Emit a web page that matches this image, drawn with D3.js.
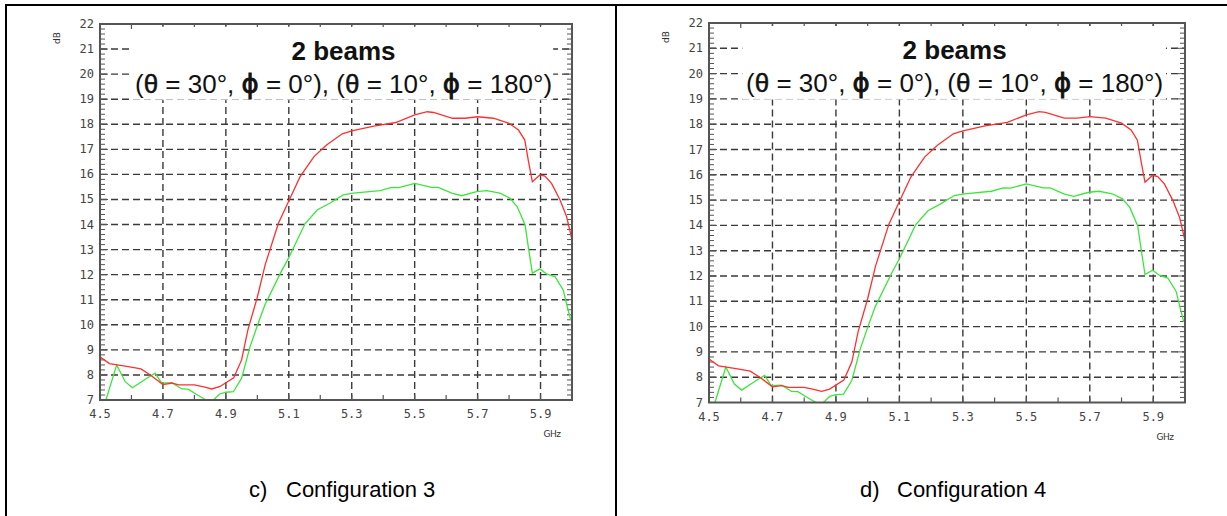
<!DOCTYPE html>
<html>
<head>
<meta charset="utf-8">
<script src="https://cdn.jsdelivr.net/npm/d3@7"></script>
<style>
  body { margin: 0; background: #fff; }
  svg { display: block; }
</style>
</head>
<body>
<div id="viz"></div>
<script>
// ------------------------------------------------ Data -------------------------------------------------
// red curve (GHz, dB)
var red_freq = [4.50, 4.53, 4.59, 4.63, 4.66, 4.70, 4.73, 4.75, 4.80, 4.83, 4.855, 4.88, 4.925, 4.95, 4.97, 5.00, 5.025, 5.067, 5.104, 5.136, 5.18, 5.22, 5.27, 5.30, 5.37, 5.44, 5.50, 5.54, 5.56, 5.62, 5.66, 5.70, 5.75, 5.80, 5.83, 5.85, 5.862, 5.874, 5.898, 5.914, 5.935, 5.962, 5.983, 6.00]
var red_db   = [8.72, 8.45, 8.33, 8.24, 8.00, 7.62, 7.67, 7.60, 7.60, 7.52, 7.44, 7.53, 7.89, 8.60, 9.80, 11.10, 12.40, 14.05, 15.05, 15.91, 16.71, 17.17, 17.62, 17.74, 17.93, 18.07, 18.37, 18.50, 18.47, 18.24, 18.24, 18.30, 18.24, 18.04, 17.77, 17.37, 16.50, 15.71, 15.98, 15.93, 15.64, 14.98, 14.31, 13.40]

// green curve (GHz, dB)
var green_freq = [4.50, 4.52, 4.553, 4.58, 4.603, 4.632, 4.654, 4.675, 4.696, 4.728, 4.76, 4.78, 4.81, 4.84, 4.855, 4.88, 4.90, 4.924, 4.95, 4.977, 5.00, 5.024, 5.075, 5.10, 5.151, 5.19, 5.23, 5.273, 5.305, 5.39, 5.427, 5.45, 5.50, 5.554, 5.575, 5.618, 5.649, 5.697, 5.729, 5.771, 5.803, 5.826, 5.851, 5.861, 5.874, 5.898, 5.92, 5.946, 5.972, 5.985, 5.996]
var green_db   = [6.50, 7.05, 8.40, 7.73, 7.49, 7.73, 7.91, 8.07, 7.67, 7.69, 7.44, 7.43, 7.20, 6.98, 6.93, 7.24, 7.31, 7.33, 7.87, 9.13, 9.97, 10.79, 12.10, 12.68, 14.02, 14.58, 14.85, 15.18, 15.25, 15.35, 15.48, 15.47, 15.64, 15.48, 15.48, 15.25, 15.15, 15.31, 15.35, 15.25, 15.05, 14.71, 13.98, 13.12, 12.06, 12.23, 12.02, 11.92, 11.39, 10.72, 10.19]

var y_ticks = [7, 8, 9, 10, 11, 12, 13, 14, 15, 16, 17, 18, 19, 20, 21, 22]
var x_labels = [4.5, 4.7, 4.9, 5.1, 5.3, 5.5, 5.7, 5.9]
var x_grid = [4.7, 4.9, 5.1, 5.3, 5.5, 5.7, 5.9]
var title_line1 = "2 beams"
var captions = ["c)", "d)"]
var caption_names = ["Configuration 3", "Configuration 4"]

// ------------------------------------------------ Layout -------------------------------------------------
var width = 1227
var height = 516
var panels = [
    {left: 100, right: 572, top: 24, bottom: 400, cell: 6},
    {left: 709, right: 1185, top: 23, bottom: 402.5, cell: 617}
]

var svg = d3.select("#viz")
    .append("svg")
    .attr("width", width)
    .attr("height", height)

var red_pts = red_freq.map(function(f, i) { return [f, red_db[i]] })
var green_pts = green_freq.map(function(f, i) { return [f, green_db[i]] })

// ------------------------------------------------ Table lines -------------------------------------------------
svg.append("line").attr("x1", 5).attr("x2", width).attr("y1", 5).attr("y2", 5)
    .style("stroke", "#000").style("stroke-width", 2)
svg.append("line").attr("x1", 6).attr("x2", 6).attr("y1", 4).attr("y2", height)
    .style("stroke", "#000").style("stroke-width", 2)
svg.append("line").attr("x1", 616).attr("x2", 616).attr("y1", 4).attr("y2", height)
    .style("stroke", "#000").style("stroke-width", 2)

panels.forEach(function(p, k) {
    var g = svg.append("g")

    var x = d3.scaleLinear().domain([4.5, 6.0]).range([p.left, p.right])
    var y = d3.scaleLinear().domain([7, 22]).range([p.bottom, p.top])

    var clipId = "clip" + k
    g.append("clipPath").attr("id", clipId)
        .append("rect")
        .attr("x", p.left).attr("y", p.top)
        .attr("width", p.right - p.left).attr("height", p.bottom - p.top)

    // ------------------- grid -------------------
    g.selectAll(".hgrid")
        .data(y_ticks.filter(function(v) { return v > 7 && v < 22 }))
        .join("line")
        .attr("x1", p.left).attr("x2", p.right)
        .attr("y1", function(d) { return y(d) }).attr("y2", function(d) { return y(d) })
        .style("stroke", "#3a3a3a").style("stroke-width", 1.4)
        .style("stroke-dasharray", "7,4")

    g.selectAll(".vgrid")
        .data(x_grid)
        .join("line")
        .attr("x1", function(d) { return x(d) }).attr("x2", function(d) { return x(d) })
        .attr("y1", p.bottom).attr("y2", p.top)
        .style("stroke", "#3a3a3a").style("stroke-width", 1.4)
        .style("stroke-dasharray", "7,4")

    // ------------------- minor ticks -------------------
    var yminor = d3.range(70, 221, 2).map(function(v) { return v / 10 })
    var xminor = d3.range(45, 61, 1).map(function(v) { return v / 10 })

    yminor.forEach(function(v) {
        var len = (Math.abs(v - Math.round(v)) < 0.01) ? 8 : 5
        g.append("line").attr("x1", p.left).attr("x2", p.left + len)
            .attr("y1", y(v)).attr("y2", y(v))
            .style("stroke", "#555").style("stroke-width", 1)
        g.append("line").attr("x1", p.right).attr("x2", p.right - len)
            .attr("y1", y(v)).attr("y2", y(v))
            .style("stroke", "#555").style("stroke-width", 1)
    })
    xminor.forEach(function(v) {
        g.append("line").attr("x1", x(v)).attr("x2", x(v))
            .attr("y1", p.top).attr("y2", p.top + 5)
            .style("stroke", "#555").style("stroke-width", 1.2)
        g.append("line").attr("x1", x(v)).attr("x2", x(v))
            .attr("y1", p.bottom).attr("y2", p.bottom - 5)
            .style("stroke", "#555").style("stroke-width", 1.2)
    })

    // ------------------- white box behind the title -------------------
    var boxL = p.left + (p.right - p.left) * 0.07
    var boxR = p.left + (p.right - p.left) * 0.96
    g.append("rect")
        .attr("x", boxL).attr("y", p.top + 3)
        .attr("width", boxR - boxL).attr("height", y(19) - p.top - 3)
        .style("fill", "#fff")
    // the 19 dB line is faded under the box
    g.append("rect")
        .attr("x", boxL).attr("y", y(19) - 1)
        .attr("width", boxR - boxL).attr("height", 2)
        .style("fill", "#fff").style("opacity", 0.6)

    // ------------------- curves -------------------
    var line = d3.line().x(function(d) { return x(d[0]) }).y(function(d) { return y(d[1]) })

    g.append("path").datum(green_pts)
        .attr("d", line)
        .attr("clip-path", "url(#" + clipId + ")")
        .style("fill", "none").style("stroke", "#3be63b").style("stroke-width", 1.3)

    g.append("path").datum(red_pts)
        .attr("d", line)
        .attr("clip-path", "url(#" + clipId + ")")
        .style("fill", "none").style("stroke", "#ff3030").style("stroke-width", 1.3)

    // ------------------- frame -------------------
    g.append("rect")
        .attr("x", p.left).attr("y", p.top)
        .attr("width", p.right - p.left).attr("height", p.bottom - p.top)
        .style("fill", "none").style("stroke", "#555").style("stroke-width", 2)

    // ------------------- tick labels -------------------
    g.selectAll(".ylab")
        .data(y_ticks)
        .join("text")
        .attr("x", p.left - 6)
        .attr("y", function(d) { return y(d) + 4 })
        .attr("text-anchor", "end")
        .style("font-family", "DejaVu Sans Mono")
        .style("font-size", "12px")
        .style("fill", "#444")
        .text(function(d) { return d })

    g.selectAll(".xlab")
        .data(x_labels)
        .join("text")
        .attr("x", function(d) { return x(d) })
        .attr("y", p.bottom + 18)
        .attr("text-anchor", "middle")
        .style("font-family", "DejaVu Sans Mono")
        .style("font-size", "12px")
        .style("fill", "#444")
        .text(function(d) { return d3.format(".1f")(d) })

    g.append("text")
        .attr("transform", "translate(" + (p.left - 40) + "," + (p.top + 14) + ") rotate(-90)")
        .attr("text-anchor", "middle")
        .style("font-family", "DejaVu Sans")
        .style("font-size", "9px")
        .style("fill", "#333")
        .text("dB")

    g.append("text")
        .attr("x", p.right - 20)
        .attr("y", p.bottom + 37)
        .attr("text-anchor", "middle")
        .style("font-family", "DejaVu Sans")
        .style("font-size", "9px")
        .style("letter-spacing", "-0.5px")
        .style("fill", "#333")
        .text("GHz")

    // ------------------- title -------------------
    var cx = p.left + (p.right - p.left) * 0.516
    g.append("text")
        .attr("x", cx).attr("y", p.top + 36)
        .attr("text-anchor", "middle")
        .style("font-family", "Liberation Sans, Arial")
        .style("font-size", "26px")
        .style("font-weight", "bold")
        .style("fill", "#111")
        .text(title_line1)

    var t2 = g.append("text")
        .attr("x", cx).attr("y", p.top + 69)
        .attr("text-anchor", "middle")
        .style("font-family", "Liberation Sans, Arial")
        .style("font-size", "26px")
        .style("fill", "#111")
    var parts = [["(", 0], ["θ", 2], [" = 30°, ", 0], ["ϕ", 1], [" = 0°), (", 0], ["θ", 2], [" = 10°, ", 0], ["ϕ", 1], [" = 180°)", 0]]
    parts.forEach(function(s) {
        var ts = t2.append("tspan").text(s[0])
        if (s[1] == 1) ts.style("font-family", "DejaVu Sans").style("stroke", "#111").style("stroke-width", 0.9)
        if (s[1] == 2) ts.style("stroke", "#111").style("stroke-width", 0.5)
    })

    // ------------------- caption -------------------
    g.append("text")
        .attr("x", p.cell + 243).attr("y", 497)
        .style("font-family", "Liberation Sans, Arial")
        .style("font-size", "22px")
        .style("fill", "#000")
        .text(captions[k])
    g.append("text")
        .attr("x", p.cell + 280).attr("y", 497)
        .style("font-family", "Liberation Sans, Arial")
        .style("font-size", "22px")
        .style("fill", "#000")
        .text(caption_names[k])
})
</script>
</body>
</html>
